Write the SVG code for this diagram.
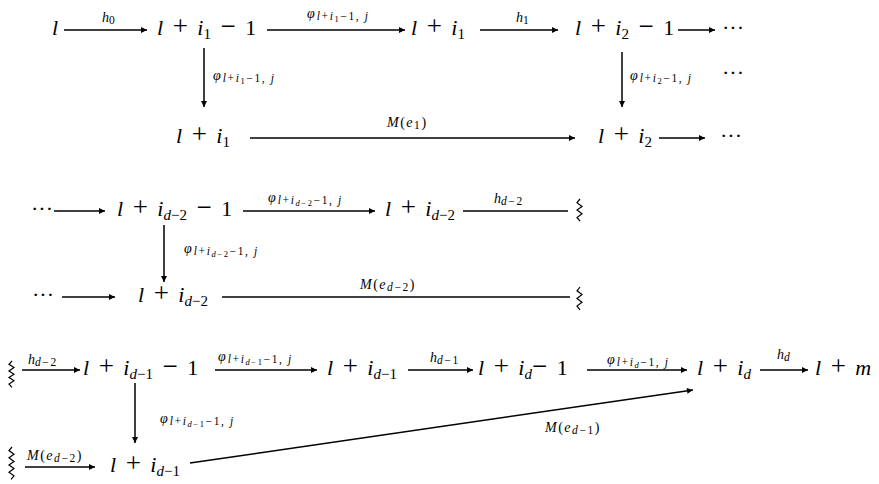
<svg xmlns="http://www.w3.org/2000/svg" width="879" height="484" viewBox="0 0 879 484">
<defs>
<style>
.t{font-family:"Liberation Serif","Times New Roman",Times,"DejaVu Serif",serif;font-size:22px;word-spacing:4px;fill:#000}
.v{font-style:italic}
.o{font-size:27px}
.s{font-size:15px;word-spacing:0}
.lb{font-family:"Liberation Serif","Times New Roman",Times,"DejaVu Serif",serif;font-size:14px;fill:#000}
.ml{letter-spacing:1.5px}
.ls{font-size:11.5px;letter-spacing:1.6px}
.lss{font-size:8.5px}
.c{stroke:#000;stroke-width:1.5;fill:none}
.a{marker-end:url(#ah)}
.z{stroke:#000;stroke-width:1.2;fill:none}
</style>
<marker id="ah" viewBox="0 0 10 10" refX="10" refY="5" markerWidth="9" markerHeight="6" markerUnits="userSpaceOnUse" orient="auto">
<path d="M0,0 L10,5 L0,10 z" fill="#000"/>
</marker>
</defs>
<rect width="879" height="484" fill="#fff"/>

<g id="connectors">
<path class="c a" d="M64,30 H147"/>
<path class="c a" d="M267,30 H405"/>
<path class="c a" d="M480,30 H558"/>
<path class="c a" d="M678,30 H715"/>
<path class="c a" d="M204,48 V107"/>
<path class="c a" d="M622,52 V107"/>
<path class="c a" d="M250,138 H575"/>
<path class="c a" d="M659,138 H705"/>
<path class="c a" d="M54,211 H105"/>
<path class="c a" d="M243,211 H375"/>
<path class="c" d="M463,211 H568"/>
<path class="c a" d="M164,225 V282"/>
<path class="c a" d="M62,297 H115"/>
<path class="c" d="M222,297 H570"/>
<path class="c a" d="M22,370 H80"/>
<path class="c a" d="M215,370 H317"/>
<path class="c a" d="M408,370 H473"/>
<path class="c a" d="M587,370 H687"/>
<path class="c a" d="M760,370 H808"/>
<path class="c a" d="M135,383 V443"/>
<path class="c a" d="M25,467 H95"/>
<path class="c a" d="M190,463 L693,390"/>
<path class="z" d="M580,199 l-3,3.7 l5,3.7 l-5,3.7 l5,3.7 l-5,3.7 l3,3.7"/>
<path class="z" d="M580,287 l-3,3.8 l5,3.8 l-5,3.8 l5,3.8 l-5,3.8 l3,3.8"/>
<path class="z" d="M12,361 l-3,3.3 l5,3.3 l-5,3.3 l5,3.3 l-5,3.3 l5,3.3 l-5,3.3 l3,3.3"/>
<path class="z" d="M12,447 l-3,3.6 l5,3.6 l-5,3.6 l5,3.6 l-5,3.6 l5,3.6 l-5,3.6 l5,3.6 l-3,3.6"/>
<text class="lb" x="102" y="22"><tspan class="v">h</tspan><tspan class="ls" dy="2">0</tspan></text>
<text class="lb" x="307" y="18"><tspan class="v">φ</tspan><tspan class="ls" dx="2" dy="2"><tspan class="v">l</tspan>+<tspan class="v">i</tspan><tspan class="lss" dy="2">1</tspan><tspan dy="-2">−1, </tspan><tspan class="v">j</tspan></tspan></text>
<text class="lb" x="516" y="22"><tspan class="v">h</tspan><tspan class="ls" dy="2">1</tspan></text>
<text class="lb" x="213" y="80"><tspan class="v">φ</tspan><tspan class="ls" dx="2" dy="2"><tspan class="v">l</tspan>+<tspan class="v">i</tspan><tspan class="lss" dy="2">1</tspan><tspan dy="-2">−1, </tspan><tspan class="v">j</tspan></tspan></text>
<text class="lb" x="630" y="80"><tspan class="v">φ</tspan><tspan class="ls" dx="2" dy="2"><tspan class="v">l</tspan>+<tspan class="v">i</tspan><tspan class="lss" dy="2">2</tspan><tspan dy="-2">−1, </tspan><tspan class="v">j</tspan></tspan></text>
<text class="lb ml" x="387" y="127"><tspan class="v">M</tspan>(<tspan class="v">e</tspan><tspan class="ls" dy="2">1</tspan><tspan dy="-2">)</tspan></text>
<text class="lb" x="268" y="202"><tspan class="v">φ</tspan><tspan class="ls" dx="2" dy="2"><tspan class="v">l</tspan>+<tspan class="v">i</tspan><tspan class="lss" dy="2"><tspan class="v">d</tspan>−2</tspan><tspan dy="-2">−1, </tspan><tspan class="v">j</tspan></tspan></text>
<text class="lb" x="494" y="203"><tspan class="v">h</tspan><tspan class="ls" dy="2"><tspan class="v">d</tspan>−2</tspan></text>
<text class="lb" x="184" y="253"><tspan class="v">φ</tspan><tspan class="ls" dx="2" dy="2"><tspan class="v">l</tspan>+<tspan class="v">i</tspan><tspan class="lss" dy="2"><tspan class="v">d</tspan>−2</tspan><tspan dy="-2">−1, </tspan><tspan class="v">j</tspan></tspan></text>
<text class="lb ml" x="360" y="289"><tspan class="v">M</tspan>(<tspan class="v">e</tspan><tspan class="ls" dy="2"><tspan class="v">d</tspan>−2</tspan><tspan dy="-2">)</tspan></text>
<text class="lb" x="28" y="364"><tspan class="v">h</tspan><tspan class="ls" dy="2"><tspan class="v">d</tspan>−2</tspan></text>
<text class="lb" x="218" y="361"><tspan class="v">φ</tspan><tspan class="ls" dx="2" dy="2"><tspan class="v">l</tspan>+<tspan class="v">i</tspan><tspan class="lss" dy="2"><tspan class="v">d</tspan>−1</tspan><tspan dy="-2">−1, </tspan><tspan class="v">j</tspan></tspan></text>
<text class="lb" x="430" y="362"><tspan class="v">h</tspan><tspan class="ls" dy="2"><tspan class="v">d</tspan>−1</tspan></text>
<text class="lb" x="607" y="364"><tspan class="v">φ</tspan><tspan class="ls" dx="2" dy="2"><tspan class="v">l</tspan>+<tspan class="v">i</tspan><tspan class="lss" dy="2"><tspan class="v">d</tspan></tspan><tspan dy="-2">−1, </tspan><tspan class="v">j</tspan></tspan></text>
<text class="lb" x="777" y="359"><tspan class="v">h</tspan><tspan class="ls" dy="2"><tspan class="v">d</tspan></tspan></text>
<text class="lb" x="160" y="423"><tspan class="v">φ</tspan><tspan class="ls" dx="2" dy="2"><tspan class="v">l</tspan>+<tspan class="v">i</tspan><tspan class="lss" dy="2"><tspan class="v">d</tspan>−1</tspan><tspan dy="-2">−1, </tspan><tspan class="v">j</tspan></tspan></text>
<text class="lb ml" x="27" y="460"><tspan class="v">M</tspan>(<tspan class="v">e</tspan><tspan class="ls" dy="2"><tspan class="v">d</tspan>−2</tspan><tspan dy="-2">)</tspan></text>
<text class="lb ml" x="545" y="432"><tspan class="v">M</tspan>(<tspan class="v">e</tspan><tspan class="ls" dy="2"><tspan class="v">d</tspan>−1</tspan><tspan dy="-2">)</tspan></text>
</g>

<g id="n-l"><text class="t" x="52" y="35"><tspan class="v">l</tspan></text></g>
<g id="n-li1m1"><text class="t" x="157" y="35"><tspan class="v">l</tspan> <tspan class="o">+</tspan> <tspan class="v">i</tspan><tspan class="s" dy="4">1</tspan><tspan dy="-4"> <tspan class="o">−</tspan> 1</tspan></text></g>
<g id="n-li1-top"><text class="t" x="411" y="35"><tspan class="v">l</tspan> <tspan class="o">+</tspan> <tspan class="v">i</tspan><tspan class="s" dy="4">1</tspan></text></g>
<g id="n-li2m1"><text class="t" x="575" y="35"><tspan class="v">l</tspan> <tspan class="o">+</tspan> <tspan class="v">i</tspan><tspan class="s" dy="4">2</tspan><tspan dy="-4"> <tspan class="o">−</tspan> 1</tspan></text></g>
<g id="n-dots1"><text class="t" x="722" y="35">···</text></g>
<g id="n-dots1b"><text class="t" x="722" y="80">···</text></g>
<g id="n-li1"><text class="t" x="176" y="143"><tspan class="v">l</tspan> <tspan class="o">+</tspan> <tspan class="v">i</tspan><tspan class="s" dy="4">1</tspan></text></g>
<g id="n-li2"><text class="t" x="598" y="143"><tspan class="v">l</tspan> <tspan class="o">+</tspan> <tspan class="v">i</tspan><tspan class="s" dy="4">2</tspan></text></g>
<g id="n-dots2"><text class="t" x="720" y="143">···</text></g>
<g id="n-dots3"><text class="t" x="31" y="216">···</text></g>
<g id="n-lid2m1"><text class="t" x="117" y="216"><tspan class="v">l</tspan> <tspan class="o">+</tspan> <tspan class="v">i</tspan><tspan class="s" dy="4"><tspan class="v">d</tspan>−2</tspan><tspan dy="-4"> <tspan class="o">−</tspan> 1</tspan></text></g>
<g id="n-lid2-top"><text class="t" x="385" y="216"><tspan class="v">l</tspan> <tspan class="o">+</tspan> <tspan class="v">i</tspan><tspan class="s" dy="4"><tspan class="v">d</tspan>−2</tspan></text></g>
<g id="n-dots4"><text class="t" x="32" y="302">···</text></g>
<g id="n-lid2"><text class="t" x="138" y="302"><tspan class="v">l</tspan> <tspan class="o">+</tspan> <tspan class="v">i</tspan><tspan class="s" dy="4"><tspan class="v">d</tspan>−2</tspan></text></g>
<g id="n-lid1m1"><text class="t" x="83" y="375"><tspan class="v">l</tspan> <tspan class="o">+</tspan> <tspan class="v">i</tspan><tspan class="s" dy="4"><tspan class="v">d</tspan>−1</tspan><tspan dy="-4"> <tspan class="o">−</tspan> 1</tspan></text></g>
<g id="n-lid1-top"><text class="t" x="327" y="375"><tspan class="v">l</tspan> <tspan class="o">+</tspan> <tspan class="v">i</tspan><tspan class="s" dy="4"><tspan class="v">d</tspan>−1</tspan></text></g>
<g id="n-lidm1"><text class="t" x="478" y="375"><tspan class="v">l</tspan> <tspan class="o">+</tspan> <tspan class="v">i</tspan><tspan class="s" dy="4"><tspan class="v">d</tspan></tspan><tspan dy="-4"><tspan class="o">−</tspan> 1</tspan></text></g>
<g id="n-lid"><text class="t" x="697" y="375"><tspan class="v">l</tspan> <tspan class="o">+</tspan> <tspan class="v">i</tspan><tspan class="s" dy="4"><tspan class="v">d</tspan></tspan></text></g>
<g id="n-lm"><text class="t" x="815" y="375"><tspan class="v">l</tspan> <tspan class="o">+</tspan> <tspan class="v">m</tspan></text></g>
<g id="n-lid1"><text class="t" x="110" y="472"><tspan class="v">l</tspan> <tspan class="o">+</tspan> <tspan class="v">i</tspan><tspan class="s" dy="4"><tspan class="v">d</tspan>−1</tspan></text></g>
</svg>
